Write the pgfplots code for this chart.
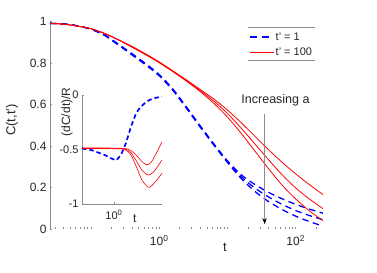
\documentclass[border=0pt]{standalone}
\usepackage{fontspec}
\setmainfont{Liberation Sans}
\usepackage{pgfplots}
\pgfplotsset{compat=1.18}
\usetikzlibrary{arrows.meta}
\definecolor{txt}{HTML}{262626}
\definecolor{axgray}{HTML}{8C8C8C}
\newcommand{\fs}[1]{\fontsize{#1}{#1}\selectfont}
\begin{document}
\begin{tikzpicture}[x=1bp,y=1bp]
\useasboundingbox (0,0) rectangle (377,273);
\begin{axis}[
  at={(50bp,44bp)}, anchor=south west,
  scale only axis, width=273bp, height=207.3bp,
  xmode=log, xmin=0.0251, xmax=251.2, ymin=0, ymax=1,
  axis x line*=bottom, axis y line*=left,
  x axis line style={draw=none},
  y axis line style={axgray, line width=0.6bp},
  tick align=inside, major tick length=2bp, minor tick length=1.5bp,
  tick style={axgray, line width=0.7bp},
  xtick={1,100}, xticklabels={10\textsuperscript{0},10\textsuperscript{2}},
  xminorticks=true,
  minor xtick={0.03,0.04,0.05,0.06,0.07,0.08,0.09,0.1,0.2,0.3,0.4,0.5,0.6,0.7,0.8,0.9,2,3,4,5,6,7,8,9,10,20,30,40,50,60,70,80,90,200},
  ytick={0,0.2,0.4,0.6,0.8,1}, yticklabels={0,0.2,0.4,0.6,0.8,1},
  ticklabel style={font=\fs{12bp}, text=txt},
  xticklabel style={yshift=-3bp},
  xlabel={t}, xlabel style={font=\fs{13bp}, text=txt, at={(axis description cs:0.641,-0.087)}, anchor=center},
  ylabel={C(t,t')}, ylabel style={font=\fs{13bp}, text=txt, at={(axis description cs:-0.139,0.526)}, anchor=center},
  clip=false,
]
% blue dashed, t' = 1
\addplot[color=blue, line width=1.3bp, dash pattern=on 6.5bp off 4.5bp, smooth] coordinates {
(0.02512,0.992) (0.03981,0.989) (0.06310,0.980) (0.1,0.964) (0.1585,0.936) (0.2512,0.892) (0.3981,0.846) (0.6310,0.798) (1,0.745) (1.585,0.675) (2.512,0.588) (3.981,0.498) (6.310,0.411) (10,0.329) (15.85,0.262) (25.12,0.215) (39.81,0.177) (63.10,0.146) (100,0.119) (158.5,0.096) (251.2,0.076)};
\addplot[color=blue, line width=1.3bp, dash pattern=on 6.5bp off 4.5bp, smooth] coordinates {
(0.02512,0.992) (0.03981,0.989) (0.06310,0.980) (0.1,0.964) (0.1585,0.935) (0.2512,0.890) (0.3981,0.843) (0.6310,0.795) (1,0.742) (1.585,0.672) (2.512,0.585) (3.981,0.495) (6.310,0.408) (10,0.325) (15.85,0.253) (25.12,0.198) (39.81,0.155) (63.10,0.119) (100,0.089) (158.5,0.065) (251.2,0.045)};
\addplot[color=blue, line width=1.3bp, dash pattern=on 6.5bp off 4.5bp, smooth] coordinates {
(0.02512,0.992) (0.03981,0.989) (0.06310,0.980) (0.1,0.964) (0.1585,0.934) (0.2512,0.888) (0.3981,0.840) (0.6310,0.792) (1,0.739) (1.585,0.669) (2.512,0.582) (3.981,0.492) (6.310,0.405) (10,0.321) (15.85,0.244) (25.12,0.182) (39.81,0.133) (63.10,0.094) (100,0.062) (158.5,0.036) (251.2,0.014)};
% red solid, t' = 100
\addplot[color=red, line width=0.8bp, smooth] coordinates {
(0.02512,0.992) (0.03981,0.988) (0.06310,0.979) (0.1,0.966) (0.1585,0.943) (0.2512,0.913) (0.3981,0.881) (0.6310,0.845) (1,0.806) (1.585,0.763) (2.512,0.719) (3.981,0.673) (6.310,0.627) (10,0.574) (15.85,0.513) (25.12,0.448) (39.81,0.383) (63.10,0.322) (100,0.266) (158.5,0.214) (251.2,0.166)};
\addplot[color=red, line width=0.8bp, smooth] coordinates {
(0.02512,0.992) (0.03981,0.988) (0.06310,0.979) (0.1,0.966) (0.1585,0.943) (0.2512,0.913) (0.3981,0.879) (0.6310,0.843) (1,0.804) (1.585,0.761) (2.512,0.716) (3.981,0.668) (6.310,0.617) (10,0.557) (15.85,0.487) (25.12,0.411) (39.81,0.335) (63.10,0.262) (100,0.198) (158.5,0.145) (251.2,0.098)};
\addplot[color=red, line width=0.8bp, smooth] coordinates {
(0.02512,0.992) (0.03981,0.988) (0.06310,0.979) (0.1,0.966) (0.1585,0.943) (0.2512,0.913) (0.3981,0.877) (0.6310,0.841) (1,0.802) (1.585,0.759) (2.512,0.713) (3.981,0.663) (6.310,0.606) (10,0.540) (15.85,0.462) (25.12,0.377) (39.81,0.292) (63.10,0.212) (100,0.145) (158.5,0.088) (251.2,0.040)};
% legend
\draw[axgray, line width=0.6bp] (axis description cs:0.725,0.974) -- (axis description cs:0.971,0.974);
\draw[axgray, line width=0.6bp] (axis description cs:0.725,0.815) -- (axis description cs:0.971,0.815);
\draw[blue, line width=1.4bp, dash pattern=on 6.5bp off 5.5bp] (axis description cs:0.7326,0.926) -- ++(19bp,0bp);
\draw[red, line width=0.9bp] (axis description cs:0.7326,0.854) -- ++(24bp,0bp);
\node[font=\fs{11bp}, text=txt, anchor=west, inner sep=0pt] at (axis description cs:0.826,0.926) {t' = 1};
\node[font=\fs{11bp}, text=txt, anchor=west, inner sep=0pt] at (axis description cs:0.826,0.854) {t' = 100};
% arrow and annotation
\draw[axgray, line width=0.7bp, -{Stealth[length=6bp,width=4.5bp,black]}] (axis cs:35,0.555) -- (axis cs:35,0.024);
\node[font=\fs{12.5bp}, text=txt] at (axis cs:50.6,0.622) {Increasing a};
\end{axis}
% inset
\begin{axis}[
  at={(82bp,69bp)}, anchor=south west,
  scale only axis, width=80bp, height=109bp,
  xmode=log, xmin=0.0251, xmax=251.2, ymin=-1, ymax=0,
  axis x line*=bottom, axis y line*=left,
  axis line style={axgray, line width=0.6bp},
  tick align=inside, major tick length=2bp,
  tick style={axgray, line width=0.7bp},
  xtick={1}, xticklabels={10\textsuperscript{0}}, xminorticks=false,
  ytick={-1,-0.5,0}, yticklabels={-1,-0.5,0},
  ticklabel style={font=\fs{11bp}, text=txt},
  xticklabel style={yshift=-3bp},
  xlabel={t}, xlabel style={font=\fs{12bp}, text=txt, at={(axis description cs:0.66,-0.13)}, anchor=center},
  ylabel={(dC/dt)/R}, ylabel style={font=\fs{12bp}, text=txt, at={(axis description cs:-0.1875,0.844)}, anchor=center},
  clip=false,
]
\addplot[color=blue, line width=1.7bp, dash pattern=on 4.5bp off 3bp] coordinates {
(0.025,-0.49) (0.074,-0.505) (0.34,-0.55) (0.8,-0.585) (1.3,-0.6) (2.24,-0.55) (3.98,-0.44) (7.08,-0.29) (12.6,-0.17) (20,-0.115) (34,-0.076) (60,-0.045) (126,-0.025) (250,-0.015)};
\addplot[color=red, line width=0.6bp, smooth] coordinates {
(0.025,-0.485) (1.0,-0.487) (3.5,-0.49) (7,-0.51) (12.6,-0.55) (22,-0.60) (41,-0.64) (70,-0.62) (126,-0.54) (250,-0.43)};
\addplot[color=red, line width=0.6bp, smooth] coordinates {
(0.025,-0.488) (1.0,-0.49) (3.5,-0.495) (7,-0.53) (12.6,-0.6) (25,-0.69) (50,-0.734) (90,-0.71) (160,-0.65) (250,-0.596)};
\addplot[color=red, line width=0.6bp, smooth] coordinates {
(0.025,-0.49) (1.0,-0.493) (3.5,-0.5) (7,-0.55) (12.6,-0.65) (25,-0.78) (54,-0.847) (100,-0.81) (170,-0.76) (250,-0.718)};
\end{axis}
\end{tikzpicture}
\end{document}
